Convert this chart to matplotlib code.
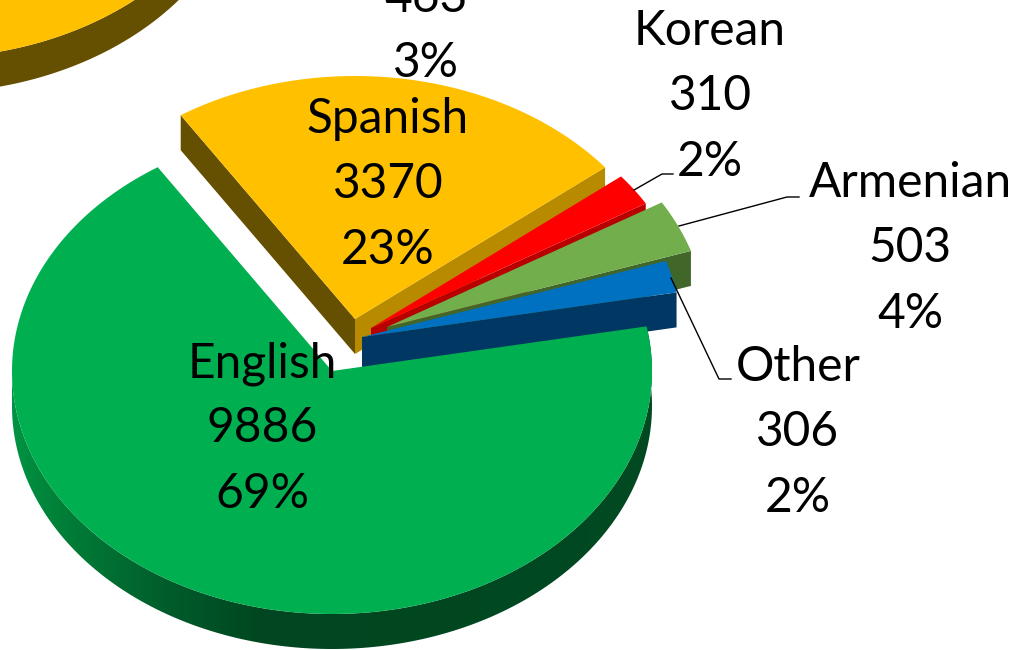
import numpy as np
import matplotlib
matplotlib.use("Agg")
import matplotlib.pyplot as plt
from matplotlib.patches import Polygon
from matplotlib.colors import LinearSegmentedColormap

# data
categories = ["Spanish", "Korean", "Armenian", "Other", "English"]
values = [3370, 310, 503, 306, 9886]
percents = ["23%", "2%", "4%", "2%", "69%"]
cut_off_value = "463"
cut_off_percent = "3%"

# style
top_colors = ["#FFC000", "#FF0000", "#72AE4B", "#0070C0", "#00B050"]
wall_colors = ["#B88A00", "#B80000", "#41662A", "#003763", "#004A22"]
left_wall = "#654F00"
apexes = [(355, 319), (371, 328), (387, 327), (362, 337), (332, 371)]
RX, RY, DEPTH = 320, 243, 35
START = 123.0

plt.rcParams["font.family"] = ["Lato", "DejaVu Sans"]
fig = plt.figure(figsize=(10.31, 6.5), dpi=100)
ax = fig.add_axes([0, 0, 1, 1])
ax.axis("off")


def pt(c, deg, dy=0.0):
    t = np.radians(deg)
    return c[0] + RX * np.cos(t), c[1] - RY * np.sin(t) + dy


def arc(c, a0, a1, dy=0.0, n=200):
    return np.column_stack(pt(c, np.linspace(a0, a1, n), dy))


# neighbouring pie, cropped by the frame
other_c = (-73, -185)
ax.add_patch(Polygon(np.vstack([arc(other_c, 0, -180, DEPTH), arc(other_c, -180, 0)]),
                     fc=left_wall, ec="none", zorder=1))
ax.add_patch(Polygon(arc(other_c, 0, 360, n=400), fc=top_colors[0], ec="none", zorder=1.1))

spans = 360.0 * np.array(values) / np.sum(values)
grad_x = np.array([5, 57, 175, 263, 700], float)
grad_c = ["#009645", "#008038", "#005A2A", "#004620", "#004A22"]
cmap = LinearSegmentedColormap.from_list(
    "wall", list(zip((grad_x - grad_x[0]) / (grad_x[-1] - grad_x[0]), grad_c)))

a = START
z = 2
for i, (name, span) in enumerate(zip(categories, spans)):
    a0, a1 = a, a - span
    c = apexes[i]
    if i == 0:
        p0 = pt(c, a0)
        ax.add_patch(Polygon([c, p0, (p0[0], p0[1] + DEPTH), (c[0], c[1] + DEPTH)],
                             fc=left_wall, ec="none", zorder=z))
    p1 = pt(c, a1)
    if i < 4:
        ax.add_patch(Polygon([c, p1, (p1[0], p1[1] + DEPTH), (c[0], c[1] + DEPTH)],
                             fc=wall_colors[i], ec="none", zorder=z))
    else:
        im = ax.imshow(np.linspace(0, 1, 512)[None, :], cmap=cmap, vmin=0, vmax=1,
                       extent=(grad_x[0], grad_x[-1], 660, 300), aspect="auto",
                       interpolation="bilinear", zorder=z)
        wall = Polygon(np.vstack([arc(c, a0, -180), arc(c, -180, a0, DEPTH)]),
                       transform=ax.transData, fc="none", ec="none")
        ax.add_patch(wall)
        im.set_clip_path(wall)
    top = np.vstack([[c], arc(c, a0, a1, n=400)])
    ax.add_patch(Polygon(top, fc=top_colors[i], ec="none", zorder=z + 0.1))
    a = a1
    z += 1

ax.set_xlim(0, 1031)
ax.set_ylim(650, 0)

# leader lines
leaders = {
    "Korean": [(634, 190), (662, 174), (673, 174)],
    "Armenian": [(679, 226), (787, 197), (799, 197)],
    "Other": [(671, 278), (719, 379), (731, 379)],
}
for pts in leaders.values():
    xs, ys = zip(*pts)
    ax.plot(xs, ys, color="black", lw=1.0, zorder=20, solid_joinstyle="miter")

# labels
anchors = {
    "Spanish": (388, 133),
    "Korean": (710, 45),
    "Armenian": (910, 197),
    "Other": (798, 381),
    "English": (262, 377),
}
FS = 34.5
PITCH = 65.5
for name, val, pc in zip(categories, values, percents):
    x, y = anchors[name]
    for k, line in enumerate([name, str(val), pc]):
        ax.text(x, y + k * PITCH, line, ha="center", va="baseline",
                fontsize=FS, color="black", zorder=30)
ax.text(426, 12, cut_off_value, ha="center", va="baseline", fontsize=FS, zorder=30)
ax.text(426, 77, cut_off_percent, ha="center", va="baseline", fontsize=FS, zorder=30)

fig.savefig("out.png", dpi=100)
